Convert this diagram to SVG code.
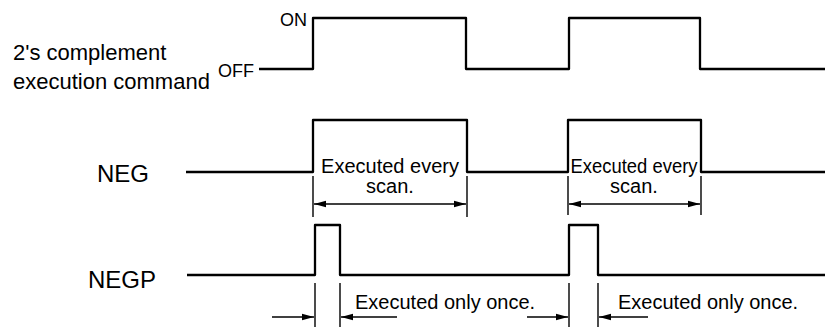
<svg xmlns="http://www.w3.org/2000/svg" width="825" height="327" viewBox="0 0 825 327">
<style>
.w{fill:none;stroke:#000;stroke-width:2.3;stroke-linejoin:round}
.e{fill:none;stroke:#000;stroke-width:1.4}
.lbl{font-family:"Liberation Sans",Arial,sans-serif;fill:#000}
.big{font-size:24px}
.cmd{font-size:22px}
.onoff{font-size:18px}
.note{font-size:20px}
</style>
<defs>
<marker id="ah" viewBox="0 0 12 8" refX="12" refY="4" markerWidth="12" markerHeight="8" markerUnits="userSpaceOnUse" orient="auto-start-reverse">
<path d="M0,0.8 L12,4 L0,7.2 Z" fill="#000"/>
</marker>
</defs>
<rect width="825" height="327" fill="#fff"/>
<g id="cmd">
<text class="lbl cmd" x="13" y="60">2's complement</text>
<text class="lbl cmd" x="13" y="89">execution command</text>
<text class="lbl onoff" x="280" y="26">ON</text>
<text class="lbl onoff" x="218" y="77">OFF</text>
<path class="w" d="M259,69 H313 V18 H466 V69 H569 V18 H700 V69 H825"/>
</g>
<g id="neg">
<text class="lbl big" x="97" y="182">NEG</text>
<path class="w" d="M186,172 H313 V120 H467 V172 H568 V120 H701 V172 H825"/>
<text class="lbl note" x="390" y="173" text-anchor="middle">Executed every</text>
<text class="lbl note" x="390" y="193" text-anchor="middle">scan.</text>
<text class="lbl note" x="634" y="173" text-anchor="middle" textLength="127" lengthAdjust="spacingAndGlyphs">Executed every</text>
<text class="lbl note" x="634" y="193" text-anchor="middle">scan.</text>
</g>
<g id="negp">
<text class="lbl big" x="88" y="288">NEGP</text>
<path class="w" d="M187,275 H315 V225 H340 V275 H569 V225 H598 V275 H825"/>
<text class="lbl note" x="355" y="309">Executed only once.</text>
<text class="lbl note" x="618" y="309">Executed only once.</text>
</g>
<g id="connectors">
<path class="e" d="M313,176 V217 M467,176 V217 M568,176 V215 M701,176 V215"/>
<path class="e" d="M315,283 V327 M340,283 V327 M569,283 V327 M598,283 V327"/>
<line class="e" x1="314" y1="204" x2="466" y2="204" marker-start="url(#ah)" marker-end="url(#ah)"/>
<line class="e" x1="569" y1="204" x2="700" y2="204" marker-start="url(#ah)" marker-end="url(#ah)"/>
<line class="e" x1="272" y1="317" x2="314" y2="317" marker-end="url(#ah)"/>
<line class="e" x1="397" y1="317" x2="341" y2="317" marker-end="url(#ah)"/>
<line class="e" x1="527" y1="317" x2="568" y2="317" marker-end="url(#ah)"/>
<line class="e" x1="648" y1="317" x2="599" y2="317" marker-end="url(#ah)"/>
</g>
</svg>
